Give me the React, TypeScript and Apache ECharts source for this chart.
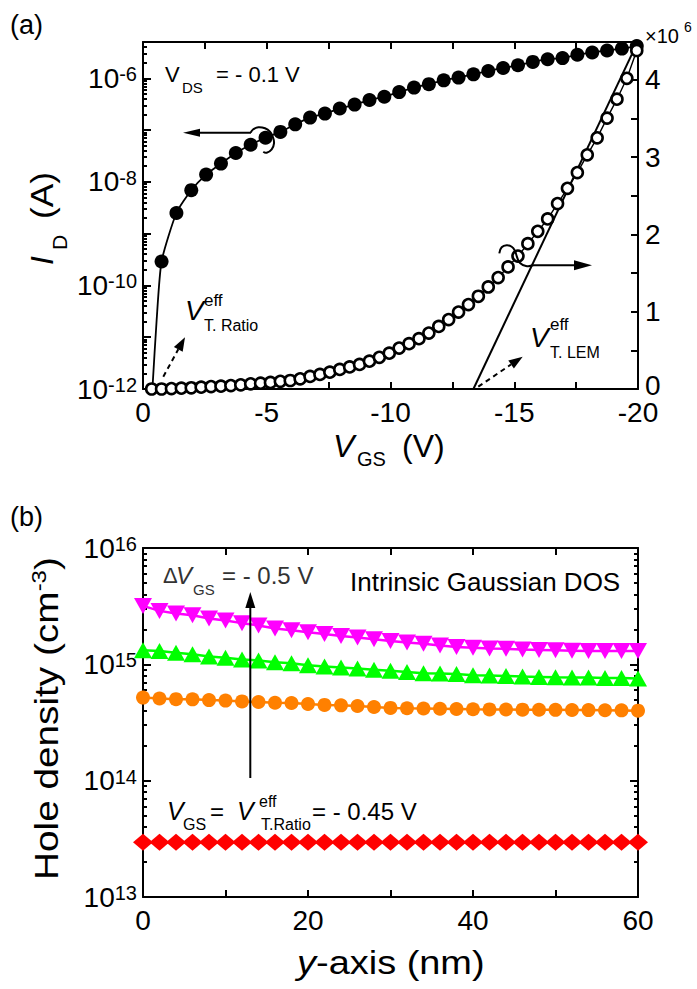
import React, { useEffect, useRef } from 'react';
import * as echarts from 'echarts';

const FONT = '"Liberation Sans", Arial, Helvetica, sans-serif';

// ---------- Panel (a) ----------
const vgsTickValues = [0, -2.5, -5, -7.5, -10, -12.5, -15, -17.5, -20];
const vgsLabelValues = [0, -5, -10, -15, -20];
const idLogMajor = [-12, -11, -10, -9, -8, -7, -6];
const idLogLabels = [-12, -10, -8, -6];
const rightTickValues = [0, 0.5, 1, 1.5, 2, 2.5, 3, 3.5, 4];
const rightLabelValues = [0, 1, 2, 3, 4];

// I_D (A), filled circles, left log axis
const idVgs = [-0.75, -1.35, -1.95, -2.55, -3.15, -3.75, -4.35, -4.95, -5.55, -6.15, -6.75, -7.35, -7.95, -8.55, -9.15, -9.75, -10.35, -10.95, -11.55, -12.15, -12.75, -13.35, -13.95, -14.55, -15.15, -15.75, -16.35, -16.95, -17.55, -18.15, -18.75, -19.35, -19.95];
const idValues = [2.9e-10, 2.5e-9, 6.9e-9, 1.38e-8, 2.25e-8, 3.6e-8, 5.2e-8, 7.1e-8, 9.2e-8, 1.29e-7, 1.74e-7, 2.08e-7, 2.6e-7, 3.1e-7, 3.8e-7, 4.4e-7, 5.4e-7, 6.6e-7, 7.7e-7, 9.1e-7, 1.03e-6, 1.19e-6, 1.38e-6, 1.58e-6, 1.78e-6, 2.07e-6, 2.33e-6, 2.45e-6, 2.84e-6, 3.15e-6, 3.44e-6, 3.74e-6, 4.19e-6];
// start of the fitted curve below the first symbol
const idFitStartVgs = [-0.38, -0.55];
const idFitStartValues = [1e-12, 2.1e-11];

// LEM quantity (x10^6), open circles, right linear axis
const lemVgs = [-0.35, -0.75, -1.15, -1.55, -1.95, -2.35, -2.75, -3.15, -3.55, -3.95, -4.35, -4.75, -5.15, -5.55, -5.95, -6.35, -6.75, -7.15, -7.55, -7.95, -8.35, -8.75, -9.15, -9.55, -9.95, -10.35, -10.75, -11.15, -11.55, -11.95, -12.35, -12.75, -13.15, -13.55, -13.95, -14.35, -14.75, -15.15, -15.55, -15.95, -16.35, -16.75, -17.15, -17.55, -17.95, -18.35, -18.75, -19.15, -19.55, -19.95];
const lemValues = [0.0, 0.0, 0.006, 0.01, 0.016, 0.023, 0.032, 0.036, 0.045, 0.054, 0.067, 0.075, 0.085, 0.1, 0.11, 0.132, 0.162, 0.188, 0.218, 0.253, 0.285, 0.318, 0.36, 0.41, 0.464, 0.53, 0.586, 0.651, 0.724, 0.81, 0.898, 0.996, 1.092, 1.2, 1.32, 1.442, 1.58, 1.72, 1.88, 2.04, 2.2, 2.4, 2.597, 2.8, 3.03, 3.25, 3.505, 3.75, 4.02, 4.38];
const tangentVgs = [-13.35, -19.75];
const tangentValues = [0, 4.33];

// ---------- Panel (b) ----------
const yNm = [0, 2, 4, 6, 8, 10, 12, 14, 16, 18, 20, 22, 24, 26, 28, 30, 32, 34, 36, 38, 40, 42, 44, 46, 48, 50, 52, 54, 56, 58, 60];
const yTickValues = [0, 10, 20, 30, 40, 50, 60];
const yLabelValues = [0, 20, 40, 60];
const holeLogMajor = [13, 14, 15, 16];
const holeMagenta = [3.18e15, 2.88e15, 2.73e15, 2.64e15, 2.48e15, 2.38e15, 2.26e15, 2.16e15, 2.03e15, 1.96e15, 1.89e15, 1.82e15, 1.75e15, 1.7e15, 1.64e15, 1.59e15, 1.54e15, 1.5e15, 1.45e15, 1.41e15, 1.39e15, 1.37e15, 1.36e15, 1.34e15, 1.33e15, 1.32e15, 1.31e15, 1.3e15, 1.3e15, 1.3e15, 1.3e15];
const holeGreen = [1.32e15, 1.3e15, 1.26e15, 1.22e15, 1.17e15, 1.14e15, 1.1e15, 1.08e15, 1.04e15, 1.02e15, 9.8e14, 9.6e14, 9.4e14, 9.2e14, 9.0e14, 8.8e14, 8.6e14, 8.4e14, 8.34e14, 8.26e14, 8.05e14, 8.0e14, 7.95e14, 7.85e14, 7.8e14, 7.75e14, 7.72e14, 7.7e14, 7.64e14, 7.62e14, 7.55e14];
const holeOrange = [5.18e14, 5.08e14, 5.02e14, 5.0e14, 4.93e14, 4.88e14, 4.8e14, 4.74e14, 4.68e14, 4.65e14, 4.56e14, 4.48e14, 4.44e14, 4.38e14, 4.3e14, 4.22e14, 4.19e14, 4.17e14, 4.15e14, 4.13e14, 4.11e14, 4.1e14, 4.09e14, 4.08e14, 4.07e14, 4.06e14, 4.05e14, 4.04e14, 4.03e14, 4.02e14, 4.0e14];
const holeRed = [2.95e13, 2.95e13, 2.95e13, 2.95e13, 2.95e13, 2.95e13, 2.95e13, 2.95e13, 2.95e13, 2.95e13, 2.95e13, 2.95e13, 2.95e13, 2.95e13, 2.95e13, 2.95e13, 2.95e13, 2.95e13, 2.95e13, 2.95e13, 2.95e13, 2.95e13, 2.95e13, 2.95e13, 2.95e13, 2.95e13, 2.95e13, 2.95e13, 2.95e13, 2.95e13, 2.95e13];

const lg = (v: number) => Math.log10(v);

function minorLogTicks(lo: number, hi: number): number[] {
  const out: number[] = [];
  for (let n = Math.floor(lo); n < Math.ceil(hi); n++) {
    for (let k = 2; k <= 9; k++) {
      const v = n + Math.log10(k);
      if (v > lo && v < hi) out.push(v);
    }
  }
  return out;
}

const black = '#000';
const axisLine = { show: true, lineStyle: { color: black, width: 2 } };
const tickStyle = { color: black, width: 2 };

function txt(x: number, y: number, text: string, fontSize: number, extra: any = {}) {
  return {
    type: 'text',
    x,
    y,
    z: 100,
    scaleX: extra.scaleX || 1,
    style: {
      text,
      fontSize,
      fontFamily: FONT,
      fill: extra.fill || black,
      fontStyle: extra.italic ? 'italic' : 'normal',
      align: 'left',
      verticalAlign: 'middle',
      rich: extra.rich,
    },
  };
}

function seg(x1: number, y1: number, x2: number, y2: number, dash?: number[]) {
  return {
    type: 'line',
    z: 100,
    shape: { x1, y1, x2, y2 },
    style: { stroke: black, lineWidth: 2, lineDash: dash || null },
  };
}

function tri(points: number[][]) {
  return { type: 'polygon', z: 100, shape: { points }, style: { fill: black } };
}

function curl(points: number[][]) {
  return {
    type: 'polyline',
    z: 100,
    shape: { points, smooth: 0.5 },
    style: { stroke: black, lineWidth: 2, fill: null },
  };
}

const logRich = {
  b: { fontSize: 28, fontFamily: FONT, color: black, lineHeight: 28 },
  s: { fontSize: 20, fontFamily: FONT, color: black, lineHeight: 17, verticalAlign: 'top' },
};

function buildOption() {
  const minorA = minorLogTicks(-12, -5.3);
  const minorB = minorLogTicks(13, 16);

  const xBase = (gridIndex: number, position: string, min: number, max: number, ticks: number[], labels: number[] | null, inverse = false) => ({
    type: 'value',
    gridIndex,
    position,
    min,
    max,
    inverse,
    axisLine,
    splitLine: { show: false },
    axisTick: { show: true, inside: true, length: 7, lineStyle: tickStyle, customValues: ticks },
    axisLabel: labels
      ? {
          show: true, margin: 13, fontSize: 28, lineHeight: 20, fontFamily: FONT, color: black,
          customValues: labels, formatter: (v: number) => String(v),
        }
      : { show: false },
  });

  const yBase = (gridIndex: number, position: string, min: number, max: number, ticks: number[], len: number, labels: any, showLine = true) => ({
    type: 'value',
    gridIndex,
    position,
    min,
    max,
    axisLine: showLine ? axisLine : { show: false },
    splitLine: { show: false },
    axisTick: { show: true, inside: true, length: len, lineStyle: tickStyle, customValues: ticks },
    axisLabel: labels || { show: false },
  });

  const logLabels = (vals: number[]) => ({
    show: true,
    margin: 6,
    customValues: vals,
    formatter: (v: number) => `{b|10}{s|${Math.round(v)}}`,
    rich: logRich,
  });

  const fitData = idFitStartVgs.map((x, i) => [x, lg(idFitStartValues[i])]).concat(idVgs.map((x, i) => [x, lg(idValues[i])]));

  const bSeries = (data: number[], color: string, symbol: string, size: any, rotate = 0) => ({
    type: 'line',
    xAxisIndex: 2,
    yAxisIndex: 3,
    data: yNm.map((x, i) => [x, lg(data[i])]),
    symbol,
    symbolSize: size,
    symbolRotate: rotate,
    showSymbol: true,
    itemStyle: { color, opacity: 1 },
    lineStyle: { color, width: 2.5 },
    z: 3,
  });

  return {
    animation: false,
    backgroundColor: '#fff',
    grid: [
      { left: 143, top: 42, width: 495, height: 347 },
      { left: 143, top: 548, width: 495, height: 349 },
    ],
    xAxis: [
      xBase(0, 'bottom', -20, 0, vgsTickValues, vgsLabelValues, true),
      xBase(0, 'top', -20, 0, vgsTickValues, null, true),
      xBase(1, 'bottom', 0, 60, yTickValues, yLabelValues),
      xBase(1, 'top', 0, 60, yTickValues, null),
    ],
    yAxis: [
      yBase(0, 'left', -12, -5.3, idLogMajor, 8, logLabels(idLogLabels)),
      yBase(0, 'left', -12, -5.3, minorA, 4, null, false),
      yBase(0, 'right', 0, 4.49, rightTickValues, 7, {
        show: true, margin: 7, fontSize: 28, lineHeight: 20, fontFamily: FONT, color: black,
        customValues: rightLabelValues,
        formatter: (v: number) => (v === 0 ? '{z|0}' : String(v)),
        rich: { z: { fontSize: 28, fontFamily: FONT, color: black, lineHeight: 20, padding: [0, 0, 8, 0] } },
      }),
      yBase(1, 'left', 13, 16, holeLogMajor, 8, logLabels(holeLogMajor)),
      yBase(1, 'left', 13, 16, minorB, 4, null, false),
      yBase(1, 'right', 13, 16, holeLogMajor, 8, null),
      yBase(1, 'right', 13, 16, minorB, 4, null, false),
    ],
    series: [
      {
        type: 'line', xAxisIndex: 0, yAxisIndex: 0, data: fitData, showSymbol: false, symbol: 'none',
        smooth: 0.2, lineStyle: { color: black, width: 1.8 }, z: 2,
      },
      {
        type: 'scatter', xAxisIndex: 0, yAxisIndex: 0, data: idVgs.map((x, i) => [x, lg(idValues[i])]),
        symbol: 'circle', symbolSize: 14, itemStyle: { color: black, opacity: 1 }, z: 3,
      },
      {
        type: 'line', xAxisIndex: 0, yAxisIndex: 2, data: lemVgs.map((x, i) => [x, lemValues[i]]),
        symbol: 'circle', symbolSize: 11, showSymbol: true,
        itemStyle: { color: '#fff', borderColor: black, borderWidth: 2.6, opacity: 1 },
        lineStyle: { color: black, width: 1.4 }, z: 3,
      },
      {
        type: 'line', xAxisIndex: 0, yAxisIndex: 2, data: tangentVgs.map((x, i) => [x, tangentValues[i]]),
        symbol: 'none', showSymbol: false, lineStyle: { color: black, width: 2 }, z: 2,
      },
      bSeries(holeMagenta, '#ff00ff', 'triangle', [18, 16], 180),
      bSeries(holeGreen, '#00ff00', 'triangle', [18, 16]),
      bSeries(holeOrange, '#ff8000', 'circle', 14),
      bSeries(holeRed, '#ff0000', 'diamond', [20, 17]),
    ],
    graphic: [
      // panel (a)
      txt(10, 25, '(a)', 27),
      txt(165, 74, 'V', 22),
      txt(182, 87, 'DS', 15),
      txt(216, 74, '= - 0.1 V', 22),
      txt(645, 36, '×10', 20),
      txt(684, 27, '6', 14),
      txt(185, 310, 'V', 28, { italic: true }),
      txt(204, 300, 'eff', 17),
      txt(204, 325, 'T. Ratio', 16),
      txt(530, 337, 'V', 28, { italic: true }),
      txt(550, 324, 'eff', 17),
      txt(550, 352, 'T. LEM', 16),
      seg(251, 132.7, 196, 132.7),
      tri([[183, 132.7], [200, 128.7], [200, 136.7]]),
      curl([[250.7, 132.7], [253.3, 129.3], [258.3, 127.3], [265, 128.3], [270, 131.7], [272.7, 136.7], [274, 143.3], [271.7, 149.3], [266.7, 152.7], [263.3, 151.7]]),
      seg(533, 265.3, 578, 265.3),
      tri([[592, 265.3], [574, 260.3], [574, 270.3]]),
      curl([[499.3, 253.3], [501.7, 247.3], [506.7, 245.3], [511.7, 246.7], [515, 251], [517, 257], [520, 263], [526, 266], [533, 265.3]]),
      seg(163.3, 376.7, 178.3, 349.3, [5, 4]),
      tri([[185, 337.3], [182.7, 351.7], [173.9, 346.9]]),
      seg(478.3, 386.7, 511, 364.5, [5, 4]),
      tri([[522.7, 356.7], [513.9, 368.6], [508.3, 360.4]]),
      // x title (a)
      txt(333, 446, 'V', 32, { italic: true }),
      txt(357, 459, 'GS', 20),
      txt(402, 446, '(V)', 32),
      // y title (a)
      {
        type: 'group', x: 42, y: 265, rotation: Math.PI / 2, z: 100,
        children: [
          txt(0, 0, 'I', 32, { italic: true }),
          txt(15, 17, 'D', 21),
          txt(46, 0, '(A)', 32, { scaleX: 1.1 }),
        ],
      },
      // panel (b)
      txt(10, 517, '(b)', 27),
      txt(163, 575, 'Δ', 22, { fill: '#333' }),
      txt(176, 575, 'V', 24, { italic: true, fill: '#333' }),
      txt(193, 589, 'GS', 15, { fill: '#333' }),
      txt(222, 575, '= - 0.5 V', 24, { fill: '#333' }),
      txt(350, 582, 'Intrinsic Gaussian DOS', 26),
      txt(167, 811, 'V', 25, { italic: true }),
      txt(183, 824.5, 'GS', 16),
      txt(210, 811, '=', 24),
      txt(237, 811, 'V', 25, { italic: true }),
      txt(259, 801, 'eff', 16),
      txt(261, 824.5, 'T.Ratio', 16),
      txt(312, 811, '= - 0.45 V', 24),
      seg(250.3, 778, 250.3, 604),
      tri([[250.3, 592], [245.3, 608], [255.3, 608]]),
      txt(297, 963, 'y', 33, { italic: true, scaleX: 1.15 }),
      txt(316, 963, '-axis (nm)', 33, { scaleX: 1.15 }),
      {
        type: 'group', x: 46, y: 880, rotation: Math.PI / 2, z: 100,
        children: [
          txt(0, 0, '{n|Hole density (cm}{s|-3}{n|)}', 34, {
            scaleX: 1.14,
            rich: {
              n: { fontSize: 34, fontFamily: FONT, color: black, lineHeight: 36 },
              s: { fontSize: 21, fontFamily: FONT, color: black, lineHeight: 18, verticalAlign: 'top' },
            },
          }),
        ],
      },
    ],
  };
}

export default function App() {
  const ref = useRef<HTMLDivElement>(null);
  useEffect(() => {
    if (!ref.current) return;
    const chart = echarts.init(ref.current, undefined, { renderer: 'svg' });
    chart.setOption(buildOption() as any);
    return () => chart.dispose();
  }, []);
  return (
    <div
      ref={ref}
      style={{ position: 'absolute', left: 0, top: 0, width: 697, height: 989, background: '#fff' }}
    />
  );
}
